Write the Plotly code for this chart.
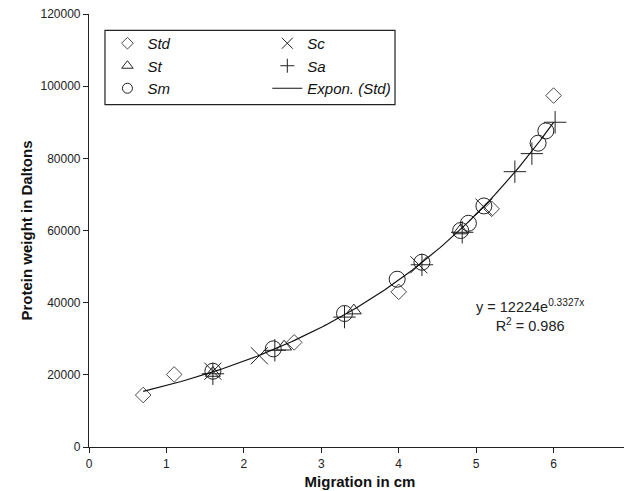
import numpy as np
import plotly.graph_objects as go

# Data
std_x = [0.7, 1.1, 2.65, 4.0, 5.2, 6.0]
std_y = [14400, 20100, 29000, 43000, 66000, 97400]

st_x = [1.6, 2.52, 3.42, 4.8]
st_y = [20500, 27800, 37800, 60000]

sm_x = [1.6, 2.38, 3.3, 3.98, 4.3, 4.8, 4.9, 5.1, 5.8, 5.9]
sm_y = [21000, 27200, 37000, 46500, 51200, 60000, 62000, 66800, 84200, 87600]

sc_x = [1.6, 2.2, 4.26, 5.1]
sc_y = [21000, 25300, 50500, 66500]

sa_x = [1.6, 2.4, 3.3, 4.3, 4.82, 5.5, 5.72, 6.02]
sa_y = [20300, 26800, 36000, 50500, 59500, 76300, 81300, 90000]

fit_a = 12224
fit_b = 0.3327
fit_r2 = 0.986
fit_x = np.linspace(min(std_x), max(std_x), 120)
fit_y = fit_a * np.exp(fit_b * fit_x)

x_ticks = [0, 1, 2, 3, 4, 5, 6, 7]
y_ticks = [0, 20000, 40000, 60000, 80000, 100000, 120000]

ink = "#222222"

fig = go.Figure()

series = [
    # name, x, y, symbol, plot size, legend size, colour, legend id
    ("Std", std_x, std_y, "diamond-open", 12, 9, "#4a4a4a", "legend"),
    ("St", st_x, st_y, "triangle-up-open", 13, 10, ink, "legend"),
    ("Sm", sm_x, sm_y, "circle-open", 16, 10, ink, "legend"),
    ("Sc", sc_x, sc_y, "x-thin-open", 17, 11, ink, "legend2"),
    ("Sa", sa_x, sa_y, "cross-thin-open", 16, 10, ink, "legend2"),
]

for name, x, y, sym, size, lsize, col, leg in series:
    fig.add_trace(go.Scatter(
        x=x, y=y, mode="markers", name=name, showlegend=False,
        marker=dict(symbol=sym, size=size, color=col, line=dict(color=col, width=1)),
    ))

fig.add_trace(go.Scatter(
    x=fit_x, y=fit_y, mode="lines", name="Expon. (Std)", showlegend=False,
    line=dict(color="#111111", width=1.2),
))

# legend entries (two columns, as in the reference)
for name, x, y, sym, size, lsize, col, leg in series:
    fig.add_trace(go.Scatter(
        x=[None], y=[None], mode="markers", name=name, legend=leg,
        marker=dict(symbol=sym, size=lsize, color=col, line=dict(color=col, width=1)),
    ))
fig.add_trace(go.Scatter(
    x=[None], y=[None], mode="lines", name="Expon. (Std)", legend="legend2",
    line=dict(color="#111111", width=1.2),
))

legend_font = dict(family="Liberation Sans, Arial", size=15, color="#111111", style="italic")

# the page body adds an 8px offset, so the figure is 8px smaller on each side
fig.update_layout(
    width=624, height=483,
    margin=dict(l=81, r=1, t=6, b=44),
    paper_bgcolor="white", plot_bgcolor="white",
    font=dict(family="Liberation Sans, Arial", color="#222222"),
    legend=dict(x=0.034, y=0.97, xanchor="left", yanchor="top",
                bgcolor="rgba(0,0,0,0)", borderwidth=0, font=legend_font,
                tracegroupgap=0),
    legend2=dict(x=0.329, y=0.97, xanchor="left", yanchor="top",
                 bgcolor="rgba(0,0,0,0)", borderwidth=0, font=legend_font,
                 tracegroupgap=0),
    shapes=[dict(type="rect", xref="paper", yref="paper",
                 x0=0.0295, x1=0.5646, y0=0.7906, y1=0.9624,
                 line=dict(color="#222222", width=1.2), fillcolor="rgba(0,0,0,0)")],
    annotations=[dict(
        x=5.7, y=36400, xref="x", yref="y", showarrow=False,
        text=f"y = {fit_a}e<sup>{fit_b}x</sup><br>R<sup>2</sup> = {fit_r2}",
        font=dict(family="Liberation Sans, Arial", size=14.5, color="#222222"),
        align="center",
    )],
)

fig.update_xaxes(
    range=[0, 7], tickvals=x_ticks, ticktext=[str(v) for v in x_ticks],
    showgrid=False, zeroline=False, showline=True, linecolor="#222222", linewidth=1.2,
    ticks="outside", ticklen=5, tickcolor="#222222", automargin=False,
    ticklabeloverflow="allow",
    tickfont=dict(size=12, color="#222222"),
    title=dict(text="<b>Migration in cm</b>", font=dict(size=15, color="#111111"), standoff=6),
)
fig.update_yaxes(
    range=[0, 120000], tickvals=y_ticks, ticktext=[str(v) for v in y_ticks],
    showgrid=False, zeroline=False, showline=True, linecolor="#222222", linewidth=1.2,
    ticks="outside", ticklen=5, tickcolor="#222222", automargin=False,
    ticklabeloverflow="allow",
    tickfont=dict(size=12, color="#222222"),
    title=dict(text="<b>Protein weight in Daltons</b>", font=dict(size=15, color="#111111"), standoff=4),
)

fig.write_html("out.html")
